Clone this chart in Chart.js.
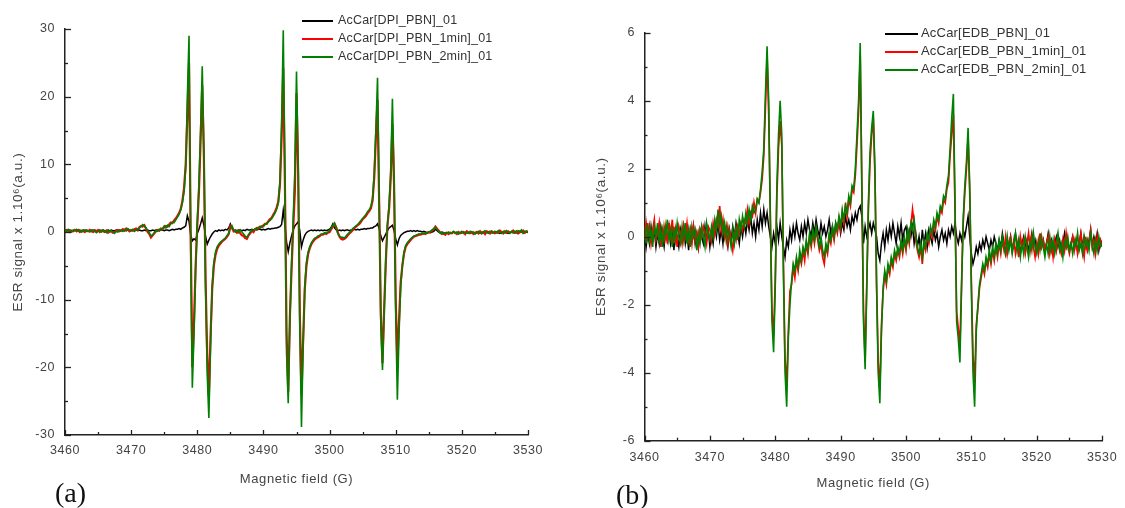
<!DOCTYPE html>
<html><head><meta charset="utf-8">
<script src="https://cdn.jsdelivr.net/npm/chart.js@4.4.1/dist/chart.umd.min.js"></script>
<style>
html,body{margin:0;padding:0;background:#fff;width:1125px;height:508px;overflow:hidden;font-family:"Liberation Sans",Arial,sans-serif;}
.panel{position:absolute;top:0;height:508px;}
#pa{left:0;width:560px;} #pb{left:560px;width:565px;}
.lg{position:absolute;height:18px;line-height:18px;white-space:nowrap;color:#333;letter-spacing:0.2px;}
.lg i{display:inline-block;height:2px;vertical-align:middle;}
.plabel{position:absolute;font-family:"Liberation Serif","Times New Roman",serif;font-size:28px;line-height:28px;color:#111;}
</style></head>
<body>
<div class="panel" id="pa"><canvas id="ca" width="560" height="508"></canvas></div>
<div class="panel" id="pb"><canvas id="cb" width="565" height="508"></canvas></div>
<div id="legA"></div><div id="legB"></div>
<div class="plabel" style="left:55px;top:479px;">(a)</div>
<div class="plabel" style="left:616px;top:481px;">(b)</div>
<script>
// Magnetic field (G), shared sampling for both spectra
const fieldG = [
3460,3460.25,3460.5,3460.75,3461,3461.25,3461.5,3461.75,3462,3462.25,3462.5,3462.75,
3463,3463.25,3463.5,3463.75,3464,3464.25,3464.5,3464.75,3465,3465.25,3465.5,3465.75,
3466,3466.25,3466.5,3466.75,3467,3467.25,3467.5,3467.75,3468,3468.25,3468.5,3468.75,
3469,3469.25,3469.5,3469.75,3470,3470.25,3470.5,3470.75,3471,3471.25,3471.5,3471.75,
3472,3472.25,3472.5,3472.75,3473,3473.25,3473.5,3473.75,3474,3474.25,3474.5,3474.75,
3475,3475.25,3475.5,3475.75,3476,3476.25,3476.5,3476.75,3477,3477.25,3477.5,3477.75,
3478,3478.25,3478.5,3478.75,3479,3479.25,3479.5,3479.75,3480,3480.25,3480.5,3480.75,
3481,3481.25,3481.5,3481.75,3482,3482.25,3482.5,3482.75,3483,3483.25,3483.5,3483.75,
3484,3484.25,3484.5,3484.75,3485,3485.25,3485.5,3485.75,3486,3486.25,3486.5,3486.75,
3487,3487.25,3487.5,3487.75,3488,3488.25,3488.5,3488.75,3489,3489.25,3489.5,3489.75,
3490,3490.25,3490.5,3490.75,3491,3491.25,3491.5,3491.75,3492,3492.25,3492.5,3492.75,
3493,3493.25,3493.5,3493.75,3494,3494.25,3494.5,3494.75,3495,3495.25,3495.5,3495.75,
3496,3496.25,3496.5,3496.75,3497,3497.25,3497.5,3497.75,3498,3498.25,3498.5,3498.75,
3499,3499.25,3499.5,3499.75,3500,3500.25,3500.5,3500.75,3501,3501.25,3501.5,3501.75,
3502,3502.25,3502.5,3502.75,3503,3503.25,3503.5,3503.75,3504,3504.25,3504.5,3504.75,
3505,3505.25,3505.5,3505.75,3506,3506.25,3506.5,3506.75,3507,3507.25,3507.5,3507.75,
3508,3508.25,3508.5,3508.75,3509,3509.25,3509.5,3509.75,3510,3510.25,3510.5,3510.75,
3511,3511.25,3511.5,3511.75,3512,3512.25,3512.5,3512.75,3513,3513.25,3513.5,3513.75,
3514,3514.25,3514.5,3514.75,3515,3515.25,3515.5,3515.75,3516,3516.25,3516.5,3516.75,
3517,3517.25,3517.5,3517.75,3518,3518.25,3518.5,3518.75,3519,3519.25,3519.5,3519.75,
3520,3520.25,3520.5,3520.75,3521,3521.25,3521.5,3521.75,3522,3522.25,3522.5,3522.75,
3523,3523.25,3523.5,3523.75,3524,3524.25,3524.5,3524.75,3525,3525.25,3525.5,3525.75,
3526,3526.25,3526.5,3526.75,3527,3527.25,3527.5,3527.75,3528,3528.25,3528.5,3528.75,
3529,3529.25,3529.5,3529.75,3530];

// ---- Panel (a): AcCar[DPI_PBN] ----
const dpi0 = [
0.2,0.3,0.2,0.3, 0.2,0.2,0.3,0.2, 0.3,0.2,0.2,0.3, 0.2,0.3,0.2,0.2, 0.3,0.2,0.3,0.2,
0.2,0.3,0.2,0.3, 0.2,0.2,0.3,0.2, 0.3,0.2,0.2,0.3, 0.2,0.3,0.2,0.2, 0.3,0.2,0.3,0.2,
0.2,0.3,0.2,0.3, 0.2,0.3,0.2,0.2, 0.3,0.2,0.3,0.2, 0.2,0.3,0.2,0.3, 0.3,0.2,0.3,0.3,
0.2,0.3,0.3,0.2, 0.3,0.4,0.3,0.4, 0.4,0.5,0.4,0.6, 0.7,0.9,2.4,1.6, -0.4,-1.3,-1.0,-1.2,
-0.2,0.4,1.2,2.1, 1.0,-0.6,-1.8,-1.2, -0.7,-0.3,0.0,0.2, 0.1,0.3,0.2,0.3, 0.2,0.4,0.3,0.6,
1.2,0.6,0.2,0.3, 0.2,0.3,0.3,0.2, 0.3,0.2,0.4,0.3, 0.3,0.4,0.3,0.4, 0.3,0.4,0.4,0.3,
0.4,0.3,0.4,0.5, 0.4,0.5,0.5,0.6, 0.6,0.7,0.8,1.1, 3.2,1.0,-1.5,-2.9, -1.6,-0.6,0.3,0.9,
1.2,1.5,0.2,-2.2, -1.2,-0.5,-0.1,0.1, 0.2,0.3,0.2,0.3, 0.2,0.3,0.2,0.3, 0.2,0.3,0.2,0.3,
0.4,0.7,1.2,0.6, 0.3,0.2,0.3,0.2, 0.3,0.2,0.3,0.3, 0.2,0.3,0.3,0.4, 0.3,0.4,0.3,0.4,
0.4,0.5,0.4,0.5, 0.5,0.6,0.6,0.8, 0.9,1.2,0.5,-0.6, -1.3,-0.8,-0.3,0.2, 0.6,0.8,1.0,0.2,
-1.0,-1.9,-1.0,-0.5, -0.3,-0.1,0.0,0.1, 0.1,0.2,0.1,0.2, 0.1,0.2,0.1,0.1, 0.0,0.1,0.0,-0.1,
0.0,-0.1,0.0,0.1, 0.4,0.2,0.0,-0.1, 0.0,-0.1,-0.2,-0.1, -0.1,-0.2,-0.1,0.0, -0.1,-0.2,-0.1,-0.1,
0.0,-0.1,-0.2,-0.1, -0.1,0.0,-0.1,-0.2, -0.1,-0.1,0.0,-0.1, -0.2,-0.1,-0.1,0.0, -0.1,-0.2,-0.1,-0.1,
0.0,-0.1,-0.1,-0.2, -0.1,0.0,-0.1,-0.1, -0.2,-0.1,0.0,-0.1, -0.1,-0.1,-0.2,-0.1, 0.0,-0.1,-0.1,0.0,
-0.1];
const dpi1 = [
0.1,0.3,0.2,0.0, 0.2,0.1,0.3,0.1, 0.3,0.0,0.2,0.1, 0.0,0.2,0.1,0.3, 0.1,0.0,0.2,0.1,
0.3,0.0,0.2,0.1, 0.0,0.2,-0.1,0.1, 0.1,-0.1,0.0,0.2, 0.3,0.1,0.2,0.4, 0.2,0.5,0.3,0.1,
0.3,0.2,0.4,0.5, 0.3,0.7,0.9,0.8, 1.0,0.5,0.0,-0.3, -0.8,-0.5,-0.2,0.1, 0.3,0.2,0.5,0.4,
0.7,0.9,0.8,1.1, 1.4,1.3,1.7,2.0, 2.4,2.8,3.4,4.6, 6.5,10.0,17.0,25.0, 0.0,-20.0,-13.5,-5.0,
1.0,6.0,13.5,21.7, 11.0,-7.0,-18.0,-24.3, -15.5,-8.5,-5.0,-3.4, -2.5,-2.0,-1.7,-1.4, -1.2,-1.0,-0.7,-0.3,
0.9,0.6,0.1,0.2, -0.1,0.2,-0.2,-0.5, -0.6,-0.9,-1.0,-0.5, -0.2,0.2,0.0,0.4, 0.6,0.5,0.8,0.7,
1.0,1.2,1.2,1.6, 1.9,2.1,2.6,3.0, 3.6,4.5,7.0,14.0, 24.2,7.0,-15.0,-23.6, -12.5,-5.5,0.5,6.0,
20.5,9.0,-12.0,-24.0, -16.0,-8.5,-5.0,-3.3, -2.4,-1.8,-1.4,-1.1, -0.9,-0.8,-0.6,-0.4, -0.4,-0.2,-0.3,-0.1,
0.0,0.4,0.8,1.2, 0.7,-0.1,-0.7,-1.0, -1.1,-1.0,-0.8,-0.5, -0.2,0.0,0.3,0.6, 0.8,1.0,1.2,1.5,
1.9,2.1,2.4,2.8, 3.1,3.5,4.6,8.0, 14.0,19.5,4.0,-12.0, -19.4,-11.5,-4.5,1.0, 3.5,8.0,16.0,7.0,
-10.0,-19.4,-13.0,-7.5, -5.0,-3.2,-2.2,-1.8, -1.5,-1.2,-0.9,-0.7, -0.6,-0.5,-0.4,-0.4, -0.3,-0.2,-0.3,-0.1,
-0.1,0.0,0.2,0.4, 0.8,0.5,0.2,-0.1, -0.3,-0.2,-0.4,-0.1, -0.3,-0.1,-0.2,0.0, -0.1,-0.3,0.0,-0.2,
-0.1,0.0,-0.3,0.1, -0.1,-0.2,0.0,-0.3, -0.1,0.0,-0.2,0.1, -0.2,0.0,-0.3,0.1, 0.0,-0.2,0.1,-0.1,
-0.2,0.0,-0.1,0.2, 0.0,-0.2,0.1,-0.1, 0.1,-0.1,0.0,0.2, -0.1,0.1,-0.2,0.1, 0.0,0.2,-0.1,0.1,
0.0];
const dpi2 = [
0.3,0.1,0.4,0.2, 0.0,0.3,0.2,0.4, 0.1,0.3,0.0,0.2, 0.3,0.1,0.2,0.0, 0.2,0.3,0.1,-0.1,
0.1,0.2,0.0,0.3, 0.1,-0.1,0.2,0.0, 0.2,0.0,-0.2,0.1, 0.0,0.2,0.3,0.1, 0.4,0.2,0.5,0.3,
0.2,0.4,0.1,0.3, 0.4,0.6,0.8,1.1, 0.9,0.6,0.2,-0.1, -0.6,-0.4,-0.1,0.2, 0.1,0.4,0.3,0.5,
0.9,0.6,1.0,0.8, 1.2,1.5,1.4,1.8, 2.2,2.6,3.3,4.3, 6.0,9.5,20.0,29.0, -2.0,-23.0,-15.0,-5.5,
1.5,7.0,15.0,24.5, 12.0,-8.0,-21.0,-27.5, -17.0,-8.0,-4.5,-3.0, -2.2,-1.8,-1.5,-1.3, -1.1,-0.9,-0.5,-0.2,
0.6,0.9,0.3,0.0, 0.2,-0.1,0.3,0.0, -0.3,-0.6,-0.8,-0.4, 0.0,0.3,0.2,0.5, 0.4,0.7,0.6,0.9,
0.8,1.1,1.3,1.5, 1.7,2.0,2.4,2.8, 3.4,4.3,7.5,16.0, 29.8,8.0,-18.0,-25.3, -13.0,-5.0,2.0,9.0,
23.7,10.0,-14.0,-28.8, -17.0,-8.0,-4.5,-3.0, -2.2,-1.6,-1.2,-0.9, -0.8,-0.6,-0.5,-0.3, -0.3,-0.1,-0.2,0.0,
0.2,0.6,1.0,1.3, 0.6,-0.2,-0.6,-0.8, -0.8,-0.9,-0.6,-0.3, -0.1,0.2,0.5,0.7, 0.9,1.1,1.4,1.7,
2.0,2.3,2.6,3.0, 3.3,3.8,5.0,8.5, 15.0,22.8,5.0,-14.0, -20.4,-12.0,-4.0,1.0, 4.0,9.0,19.7,8.0,
-12.0,-24.8,-15.0,-8.0, -5.0,-3.0,-2.0,-1.6, -1.3,-1.0,-0.8,-0.6, -0.5,-0.4,-0.3,-0.3, -0.2,-0.3,-0.1,-0.2,
0.0,0.1,0.3,0.5, 0.7,0.4,0.1,-0.2, -0.1,-0.3,-0.1,-0.2, 0.0,-0.2,-0.1,0.1, -0.2,0.0,-0.3,-0.1,
0.1,-0.2,0.0,-0.1, -0.2,0.1,-0.1,0.0, -0.3,-0.1,0.1,-0.2, 0.0,-0.1,0.2,-0.1, -0.2,0.1,0.0,-0.1,
0.1,-0.1,0.2,0.0, -0.2,0.1,-0.1,0.2, 0.0,-0.2,0.1,-0.1, 0.1,-0.1,0.2,0.0, 0.3,-0.2,0.1,0.0,
0.1];

// ---- Panel (b): AcCar[EDB_PBN] ----
const edb0 = [
0.2,-0.3,0.1,-0.2, 0.3,-0.1,0.2,-0.3, 0.1,-0.2,0.3,0.0, -0.3,0.2,-0.1,0.3, -0.2,0.1,-0.4,0.2,
0.0,-0.3,0.2,-0.1, 0.3,-0.2,0.1,-0.4, 0.2,-0.1,0.3,-0.2, 0.1,-0.3,0.2,0.0, -0.2,0.3,-0.1,0.2,
-0.3,0.1,-0.2,0.3, 0.0,0.4,-0.1,0.2, -0.2,0.3,0.0,-0.3, 0.2,-0.1,0.3,0.0, 0.4,0.1,-0.2,0.3,
0.0,0.4,0.1,0.5, 0.2,0.6,0.1,0.4, 0.0,0.5,0.2,0.7, 0.3,0.8,0.4,0.7, 0.3,0.0,-0.3,0.1,
-0.2,0.3,-0.1,0.4, 0.0,-0.3,-0.6,-0.1, -0.3,0.2,-0.1,0.3, 0.0,0.4,0.1,-0.1, 0.3,0.0,0.4,0.1,
0.5,0.2,0.0,0.4, 0.1,0.5,0.2,0.0, 0.4,0.1,0.3,0.0, 0.2,0.5,0.1,0.3, 0.0,0.4,0.2,0.5,
0.1,0.4,0.2,0.6, 0.3,0.5,0.2,0.6, 0.4,0.7,0.5,0.8, 0.9,0.6,-0.2,0.3, 0.0,0.2,0.4,0.1,
0.4,0.2,0.0,-0.5, -0.7,-0.2,0.1,-0.3, 0.2,-0.1,0.3,0.0, 0.4,0.1,-0.2,0.3, 0.0,0.4,-0.1,0.2,
0.3,-0.1,0.2,0.0, 0.3,-0.2,0.1,-0.3, 0.0,-0.4,0.2,-0.2, 0.1,-0.3,0.2,0.0, -0.2,0.2,-0.1,0.1,
-0.3,0.0,0.2,-0.1, 0.1,-0.2,0.2,0.0, 0.3,0.1,0.4,0.0, -0.2,0.1,-0.1,0.2, 0.0,0.3,0.6,0.0,
-0.5,-0.8,-0.6,-0.3, -0.5,-0.2,-0.4,-0.1, -0.3,0.0,-0.2,-0.4, -0.1,-0.3,0.0,-0.2, -0.4,-0.1,-0.3,0.1,
-0.2,-0.5,-0.1,-0.3, 0.0,-0.4,-0.2,0.1, -0.3,-0.1,-0.5,-0.2, 0.0,-0.3,-0.1,-0.4, -0.2,0.1,-0.3,-0.1,
-0.4,-0.2,0.0,-0.3, -0.1,-0.4,-0.2,0.1, -0.3,-0.1,-0.4,-0.2, 0.0,-0.3,-0.1,-0.4, -0.2,0.1,-0.3,-0.1,
-0.4,-0.2,0.0,-0.3, -0.1,-0.4,-0.2,0.1, -0.3,0.0,-0.2,-0.4, -0.1,0.2,-0.3,0.0, -0.2,0.1,-0.4,-0.1,
-0.2];
const edb1 = [
-0.1,0.4,0.0,0.3, -0.2,0.2,0.5,-0.1, 0.1,0.4,-0.3,0.2, -0.1,0.3,-0.2,0.4, 0.0,0.5,-0.2,0.2,
-0.3,0.3,0.1,-0.2, 0.3,0.0,0.4,-0.1, 0.2,-0.2,0.3,-0.1, 0.1,-0.3,0.2,0.0, 0.3,0.1,-0.2,0.3,
0.2,-0.1,0.4,0.1, 0.5,0.3,0.9,0.2, 0.5,0.0,0.3,-0.2, 0.2,-0.1,-0.4,0.1, -0.1,0.3,0.1,0.4,
0.2,0.5,0.4,0.8, 0.4,0.7,0.6,1.0, 0.7,1.1,1.0,1.3, 1.7,2.4,3.8,5.3, 3.6,0.6,-2.2,-2.9,
-1.3,1.2,2.6,3.4, 2.7,-0.8,-3.6,-4.4, -2.8,-1.6,-1.4,-0.9, -1.2,-0.7,-1.0,-0.6, -0.8,-0.4,-0.7,-0.2,
-0.5,0.0,-0.3,0.1, -0.2,0.2,-0.1,-0.4, -0.2,-0.6,-0.8,-0.3, -0.5,0.0,-0.2,0.2, -0.1,0.3,0.1,0.5,
0.2,0.7,0.4,1.0, 0.6,1.1,0.9,1.4, 1.3,1.8,2.7,3.7, 5.3,1.4,-2.2,-3.6, -1.4,0.8,2.2,3.0,
3.5,1.8,-1.3,-3.7, -4.5,-2.6,-1.6,-1.1, -1.4,-0.9,-1.1,-0.7, -0.9,-0.5,-0.7,-0.4, -0.6,-0.2,-0.5,-0.1,
-0.4,0.1,-0.2,0.3, 0.8,0.4,-0.1,-0.4, -0.6,-0.3,-0.8,-0.2, -0.4,0.0,-0.2,0.2, 0.0,0.4,0.2,0.6,
0.4,0.8,0.7,1.1, 1.0,1.4,1.6,2.4, 3.0,3.6,0.8,-2.2, -2.7,-3.2,-1.4,0.4, 1.3,2.0,2.9,1.3,
-1.3,-3.5,-4.3,-2.6, -2.1,-1.5,-1.2,-0.9, -1.1,-0.7,-0.9,-0.5, -0.8,-0.4,-0.7,-0.3, -0.6,-0.2,-0.5,-0.1,
-0.4,0.0,-0.5,-0.2, 0.0,-0.4,-0.1,-0.5, -0.2,-0.6,0.0,-0.3, -0.1,-0.5,-0.2,0.1, -0.4,0.0,-0.3,-0.6,
-0.2,-0.5,0.1,-0.3, -0.1,-0.4,-0.2,0.0, -0.5,-0.2,-0.6,-0.1, -0.4,0.0,-0.3,-0.5, -0.1,-0.4,0.1,-0.3,
-0.5,-0.2,0.0,-0.4, -0.1,-0.5,-0.2,0.1, -0.3,-0.6,0.0,-0.4, -0.2,0.2,-0.3,-0.1, -0.5,0.0,-0.3,-0.1,
-0.3];
const edb2 = [
0.3,-0.2,0.4,-0.1, 0.2,-0.3,0.3,0.0, 0.4,-0.2,0.2,-0.3, 0.3,0.0,0.5,-0.1, 0.2,-0.3,0.3,-0.1,
0.4,0.0,-0.2,0.3, -0.1,0.4,-0.2,0.2, -0.3,0.3,0.0,0.2, -0.4,0.1,-0.2,0.3, 0.0,-0.3,0.4,0.1,
-0.1,0.3,0.0,0.5, 0.2,0.8,0.3,0.6, 0.1,0.4,-0.1,0.3, 0.0,-0.3,0.2,-0.2, 0.3,-0.1,0.5,0.2,
0.6,0.3,0.7,0.4, 0.8,0.5,0.9,0.7, 0.8,1.1,1.0,1.4, 1.9,2.6,4.2,5.6, 4.0,0.5,-2.5,-3.4,
-1.5,1.5,3.0,4.0, 3.0,-1.0,-4.0,-5.0, -3.0,-2.0,-1.3,-0.8, -1.0,-0.6,-0.9,-0.4, -0.7,-0.3,-0.5,-0.1,
-0.4,0.1,-0.2,0.2, -0.1,0.3,0.0,-0.3, 0.0,-0.4,-0.6,-0.2, -0.4,0.1,-0.1,0.3, 0.0,0.4,0.2,0.6,
0.3,0.8,0.5,0.9, 0.7,1.2,1.0,1.5, 1.4,2.0,3.0,4.0, 5.7,1.5,-2.5,-3.9, -1.5,1.0,2.5,3.2,
3.7,2.0,-1.5,-4.0, -4.9,-2.8,-1.5,-1.0, -1.3,-0.8,-1.0,-0.6, -0.8,-0.4,-0.6,-0.3, -0.5,-0.1,-0.4,0.0,
-0.3,0.2,-0.1,0.4, 0.2,0.5,0.0,-0.3, -0.5,-0.2,-0.6,-0.1, -0.3,0.1,-0.1,0.3, 0.1,0.5,0.3,0.7,
0.5,0.9,0.8,1.2, 1.1,1.5,1.8,2.6, 3.5,4.2,1.0,-2.5, -3.0,-3.7,-1.5,0.5, 1.5,2.2,3.2,1.5,
-1.5,-4.0,-5.0,-2.8, -2.0,-1.4,-1.1,-0.8, -1.0,-0.6,-0.8,-0.4, -0.7,-0.3,-0.6,-0.2, -0.5,-0.1,-0.4,0.0,
-0.3,-0.5,0.0,-0.4, -0.1,-0.5,-0.2,0.1, -0.4,-0.1,-0.6,-0.2, -0.5,0.0,-0.3,-0.6, -0.1,-0.4,0.1,-0.3,
-0.5,-0.1,-0.4,0.0, -0.3,-0.6,-0.2,-0.5, 0.0,-0.4,-0.1,-0.5, -0.2,0.1,-0.4,-0.2, -0.6,-0.1,-0.3,0.0,
-0.4,-0.2,-0.5,-0.1, -0.3,0.1,-0.4,-0.2, -0.5,0.0,-0.3,-0.1, -0.4,0.1,-0.2,-0.5, -0.1,-0.4,0.0,-0.3,
-0.2];

const seriesNamesA = ['AcCar[DPI_PBN]_01','AcCar[DPI_PBN_1min]_01','AcCar[DPI_PBN_2min]_01'];
const seriesNamesB = ['AcCar[EDB_PBN]_01','AcCar[EDB_PBN_1min]_01','AcCar[EDB_PBN_2min]_01'];
const seriesColors = ['#000000','#ff0000','#008000'];
const xTitle = 'Magnetic field (G)';
const yTitle = 'ESR signal x 1.10\u2076(a.u.)';

Chart.defaults.font.family = "'Liberation Sans', Arial, sans-serif";

const spacing = {
  id: 'spacing',
  beforeDraw(chart) { if ('letterSpacing' in chart.ctx) chart.ctx.letterSpacing = '0.6px'; }
};

const inwardTicks = {
  id: 'inwardTicks',
  afterDraw(chart, args, o) {
    const ctx = chart.ctx, ca = chart.chartArea;
    ctx.save();
    ctx.strokeStyle = '#222'; ctx.lineWidth = 1.3;
    const xs = chart.scales.x, ys = chart.scales.y;
    xs.ticks.forEach(t => {
      const p = Math.round(xs.getPixelForValue(t.value)) + 0.5;
      const len = (Math.abs(t.value % o.xMajor) < 1e-9) ? 5 : 3;
      ctx.beginPath(); ctx.moveTo(p, ca.bottom); ctx.lineTo(p, ca.bottom - len); ctx.stroke();
    });
    ys.ticks.forEach(t => {
      const p = Math.round(ys.getPixelForValue(t.value)) + 0.5;
      const len = (Math.abs(t.value % o.yMajor) < 1e-9) ? 6 : 3;
      ctx.beginPath(); ctx.moveTo(ca.left, p); ctx.lineTo(ca.left + len, p); ctx.stroke();
    });
    ctx.restore();
  }
};

function build(canvasId, ys, names, cfg) {
  const order = [2, 1, 0];
  const widths = [1.5, cfg.redW, 1.6];
  const datasets = ys.map((arr, i) => ({
    label: names[i],
    data: fieldG.map((g, k) => ({x: g, y: arr[k]})),
    borderColor: seriesColors[i],
    borderWidth: widths[i],
    pointRadius: 0,
    tension: 0,
    order: order[i]
  }));
  return new Chart(document.getElementById(canvasId), {
    type: 'line',
    data: { datasets },
    options: {
      responsive: false, animation: false, devicePixelRatio: 1,
      layout: { padding: { left: 0, right: cfg.padR, top: cfg.padT, bottom: 0 } },
      plugins: { legend: { display: false }, tooltip: { enabled: false },
                 inwardTicks: { xMajor: 10, yMajor: cfg.yMajor } },
      scales: {
        x: {
          type: 'linear', min: 3460, max: 3530,
          grid: { display: false, drawTicks: false },
          border: { display: true, color: '#222', width: 1.5 },
          ticks: { stepSize: 5, autoSkip: false, maxRotation: 0, padding: cfg.xPad, color: '#444',
                   font: { size: cfg.tickSize },
                   callback: v => (v % 10 === 0 ? String(v) : '') },
          title: { display: true, text: xTitle, color: '#444', font: { size: cfg.titleSize },
                   padding: { top: 0, bottom: cfg.xTitlePad } },
          afterFit: s => { s.height = cfg.xH; }
        },
        y: {
          type: 'linear', min: cfg.yMin, max: cfg.yMax,
          grid: { display: false, drawTicks: false },
          border: { display: true, color: '#222', width: 1.5 },
          ticks: { stepSize: cfg.yStep, autoSkip: false, padding: cfg.yPad, color: '#444',
                   font: { size: cfg.tickSize },
                   callback: v => (Math.abs(v % cfg.yMajor) < 1e-9 ? String(v) : '') },
          title: { display: true, text: yTitle, color: '#444', font: { size: cfg.yTitleSize },
                   padding: { top: cfg.yTitlePad, bottom: 0 } },
          afterFit: s => { s.width = cfg.yW; }
        }
      }
    },
    plugins: [spacing, inwardTicks]
  });
}

build('ca', [dpi0, dpi1, dpi2], seriesNamesA, {
  padR: 32, padT: 29, xH: 73, yW: 65, yMin: -30, yMax: 30, yStep: 5, yMajor: 10, redW: 2.2,
  xPad: 8, yPad: 10, tickSize: 12.5, titleSize: 13, yTitleSize: 13.5, xTitlePad: 21, yTitlePad: 10
});
build('cb', [edb0, edb1, edb2], seriesNamesB, {
  padR: 18, padT: 32.7, xH: 67.3, yW: 84.5, yMin: -6, yMax: 6, yStep: 1, yMajor: 2, redW: 1.7,
  xPad: 9, yPad: 9.5, tickSize: 12.5, titleSize: 13, yTitleSize: 13.5, xTitlePad: 17, yTitlePad: 33
});

function legend(hostId, names, left, tops, lineW, gap, fontSize) {
  const host = document.getElementById(hostId);
  names.forEach((n, i) => {
    const d = document.createElement('div');
    d.className = 'lg';
    d.style.left = left + 'px';
    d.style.top = (tops[i] - 9) + 'px';
    d.style.fontSize = fontSize + 'px';
    d.innerHTML = '<i style="width:' + lineW + 'px;background:' + seriesColors[i] + ';margin-right:' + gap + 'px"></i>';
    d.appendChild(document.createTextNode(n));
    host.appendChild(d);
  });
}
legend('legA', seriesNamesA, 302, [20, 38, 56], 31, 5, 12.5);
legend('legB', seriesNamesB, 885, [33, 51, 69], 33, 3, 13);
</script>
</body></html>
